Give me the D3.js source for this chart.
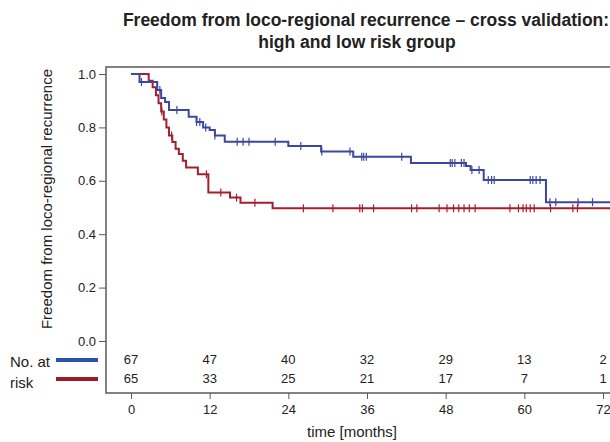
<!DOCTYPE html>
<html>
<head>
<meta charset="utf-8">
<script src="https://cdn.jsdelivr.net/npm/d3@7"></script>
<style>
body { margin: 0; background: #fff; }
svg { display: block; font-family: "Liberation Sans", Arial, sans-serif; }
</style>
</head>
<body>
<div id="chart"></div>
<script>
// x axis ticks (months) and y ticks
var months = [0, 12, 24, 36, 48, 60, 72];
var yTicks = [0, 0.2, 0.4, 0.6, 0.8, 1.0];

// low risk group (blue) - step times and survival after each step
var blueTimes = [0, 1.3, 4.0, 4.6, 5.2, 5.8, 8.8, 10.0, 11.0, 12.0, 12.8, 14.3, 24.0, 29.0, 33.9, 42.7, 51.1, 51.8, 53.8, 63.3, 74];
var blueSurv  = [1.0, 0.97, 0.94, 0.91, 0.895, 0.865, 0.84, 0.82, 0.80, 0.79, 0.77, 0.746, 0.73, 0.71, 0.69, 0.667, 0.655, 0.64, 0.603, 0.52, 0.52];
var blueCensor = [1.6, 4.4, 7.0, 10.0, 10.5, 11.4, 12.8, 16.2, 17.1, 18.0, 22.0, 25.9, 29.1, 33.4, 35.2, 35.5, 35.9, 41.3,
                  48.7, 49.0, 49.4, 50.4, 50.8, 52.0, 53.1, 54.5, 55.0, 55.4, 60.9, 61.3, 61.8, 62.4, 63.9, 64.8, 68.2, 70.4];

// high risk group (red)
var redTimes = [0, 2.7, 3.3, 3.8, 4.2, 4.6, 5.0, 5.4, 5.8, 6.3, 6.8, 7.3, 7.9, 8.4, 10.2, 11.8, 15.1, 16.7, 21.6, 74];
var redSurv  = [1.0, 0.975, 0.95, 0.92, 0.89, 0.86, 0.83, 0.80, 0.77, 0.745, 0.72, 0.70, 0.675, 0.65, 0.625, 0.556, 0.537, 0.518, 0.497, 0.497];
var redCensor = [4.7, 6.2, 11.5, 13.7, 16.1, 18.9, 26.3, 30.8, 34.9, 35.3, 37.0, 42.8, 43.6, 47.0, 48.2, 49.2, 50.0, 50.8,
                 51.6, 52.5, 57.8, 59.1, 59.8, 60.3, 60.9, 61.5, 64.0, 67.4, 68.1];

// numbers at risk
var blueAtRisk = [67, 47, 40, 32, 29, 13, 2];
var redAtRisk  = [65, 33, 25, 21, 17, 7, 1];

var blueCol = "#3b47a0", redCol = "#a51e2e";
var W = 610, H = 442;

var svg = d3.select("#chart").append("svg").attr("width", W).attr("height", H);

var x = d3.scaleLinear().domain([0, 72]).range([131, 603]);
var y = d3.scaleLinear().domain([0, 1]).range([341, 74]);

var plotLeft = 106, plotTop = 67, plotBottom = 393;

// title
var title = svg.append("text").attr("text-anchor", "middle")
  .attr("font-weight", "bold").attr("font-size", "17.5px").attr("fill", "#222");
title.append("tspan").attr("x", 366).attr("y", 26).text("Freedom from loco-regional recurrence \u2013 cross validation:");
title.append("tspan").attr("x", 357).attr("y", 48).text("high and low risk group");

// frame
svg.append("path")
  .attr("d", "M" + (W + 5) + "," + plotTop + "H" + plotLeft + "V" + plotBottom + "H" + (W + 5))
  .attr("fill", "none").attr("stroke", "#5a5a5a").attr("stroke-width", 1.5);

// y axis
var yAxis = svg.append("g").attr("transform", "translate(" + plotLeft + ",0)")
  .call(d3.axisLeft(y).tickValues(yTicks).tickFormat(d3.format(".1f")).tickSize(7).tickPadding(3));
yAxis.select(".domain").remove();
yAxis.selectAll("line").attr("stroke", "#5a5a5a");
yAxis.selectAll("text").attr("font-size", "13px").attr("fill", "#222").attr("font-family", null);

// x axis
var xAxis = svg.append("g").attr("transform", "translate(0," + plotBottom + ")")
  .call(d3.axisBottom(x).tickValues(months).tickSize(6).tickPadding(6));
xAxis.select(".domain").remove();
xAxis.selectAll("line").attr("stroke", "#5a5a5a");
xAxis.selectAll("text").attr("font-size", "13px").attr("fill", "#222").attr("font-family", null);

svg.append("text").attr("x", 352).attr("y", 437).attr("text-anchor", "middle")
  .attr("font-size", "15px").attr("fill", "#222").text("time [months]");

svg.append("text").attr("transform", "translate(52,199) rotate(-90)")
  .attr("text-anchor", "middle").attr("font-size", "15px").attr("fill", "#222")
  .text("Freedom from loco-regional recurrence");

// clip for curves
svg.append("clipPath").attr("id", "plotclip").append("rect")
  .attr("x", plotLeft).attr("y", plotTop).attr("width", W - plotLeft).attr("height", plotBottom - plotTop);

var line = d3.line()
  .x(function(d) { return x(d[0]); })
  .y(function(d) { return y(d[1]); })
  .curve(d3.curveStepAfter);

function stepAt(times, surv, t) {
  var v = surv[0];
  for (var i = 0; i < times.length; i++) { if (times[i] <= t) v = surv[i]; }
  return v;
}

function drawCurve(times, surv, censor, col) {
  var g = svg.append("g").attr("clip-path", "url(#plotclip)");
  g.append("path")
    .datum(d3.zip(times, surv))
    .attr("d", line)
    .attr("fill", "none").attr("stroke", col).attr("stroke-width", 2);
  g.selectAll(".cens")
    .data(censor)
    .enter().append("line")
    .attr("x1", function(d) { return x(d); })
    .attr("x2", function(d) { return x(d); })
    .attr("y1", function(d) { return y(stepAt(times, surv, d)) - 4; })
    .attr("y2", function(d) { return y(stepAt(times, surv, d)) + 4; })
    .attr("stroke", col).attr("stroke-width", 1.2);
}

drawCurve(redTimes, redSurv, redCensor, redCol);
drawCurve(blueTimes, blueSurv, blueCensor, blueCol);

// numbers at risk
function riskRow(vals, yy) {
  svg.append("g").selectAll("text")
    .data(vals)
    .enter().append("text")
    .attr("x", function(d, i) { return x(months[i]); })
    .attr("y", yy)
    .attr("text-anchor", "middle")
    .attr("font-size", "13px").attr("fill", "#222")
    .text(function(d) { return d; });
}
riskRow(blueAtRisk, 364);
riskRow(redAtRisk, 383);

svg.append("line").attr("x1", 56).attr("x2", 98).attr("y1", 360).attr("y2", 360)
  .attr("stroke", "#2d52ad").attr("stroke-width", 4);
svg.append("line").attr("x1", 56).attr("x2", 98).attr("y1", 379).attr("y2", 379)
  .attr("stroke", "#9c1b24").attr("stroke-width", 4);

svg.append("text").attr("x", 10).attr("y", 367).attr("font-size", "15px").attr("fill", "#222").text("No. at");
svg.append("text").attr("x", 10).attr("y", 388).attr("font-size", "15px").attr("fill", "#222").text("risk");
</script>
</body>
</html>
